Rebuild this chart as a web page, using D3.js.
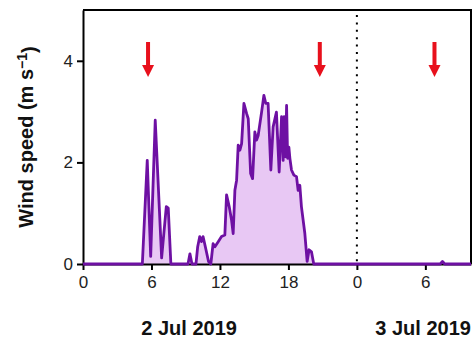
<!DOCTYPE html>
<html>
<head>
<meta charset="utf-8">
<script src="https://cdn.jsdelivr.net/npm/d3@7"></script>
<style>
  body { margin: 0; background: #fff; }
  svg text { font-family: "Liberation Sans", Arial, sans-serif; }
</style>
</head>
<body>
<svg id="wind-chart" width="473" height="345"></svg>
<script>
// hours since 00:00 on 2 Jul 2019, wind speed in m/s
var hours = [0, 5.2, 5.63, 5.93, 6.33, 6.89, 7.3, 7.47, 7.7, 9.2, 9.37, 9.55, 9.9,
  10.05, 10.23, 10.38, 10.52, 10.72, 11.0, 11.2, 11.4, 11.56, 11.85, 12.14, 12.43,
  12.58, 12.81, 13.02, 13.16, 13.31, 13.46, 13.6, 13.75, 13.9, 14.1, 14.34, 14.48,
  14.69, 14.86, 15.06, 15.21, 15.35, 15.65, 15.85, 16.02, 16.22, 16.46, 16.66, 16.95,
  17.19, 17.4, 17.54, 17.63, 17.75, 17.84, 17.93, 18.04, 18.13, 18.27, 18.48, 18.71,
  18.85, 19.0, 19.14, 19.44, 19.64, 19.81, 20.02, 20.22, 31.3, 31.5, 31.7, 34];
var speeds = [0, 0, 2.04, 0.15, 2.83, 0.12, 1.13, 1.1, 0, 0, 0.2, 0, 0,
  0.34, 0.54, 0.44, 0.54, 0.34, 0.05, 0, 0.4, 0.34, 0.44, 0.54, 0.57,
  1.36, 1.13, 0.86, 0.6, 1.45, 1.65, 2.34, 2.24, 2.37, 3.16, 2.96, 2.86,
  1.78, 1.68, 2.6, 2.44, 2.53, 2.99, 3.32, 3.16, 3.16, 1.85, 2.7, 2.99,
  1.81, 2.9, 2.04, 2.9, 2.11, 3.12, 2.08, 2.3, 2.08, 1.85, 1.75, 1.72,
  1.45, 1.55, 1.13, 0.6, 0.05, 0.28, 0.24, 0, 0, 0.05, 0, 0];

var xTicks = [0, 6, 12, 18, 24, 30];
var xTickLabels = ["0", "6", "12", "18", "0", "6"];
var yTicks = [0, 2, 4];
var arrowHours = [5.7, 20.75, 30.8];
var midnight = 24;
var dayLabels = ["2 Jul 2019", "3 Jul 2019"];
var dayLabelHours = [9.3, 29.8];

var margin = {top: 10, right: 2, bottom: 81, left: 83},
    width = 473 - margin.left - margin.right,
    height = 345 - margin.top - margin.bottom;

var svg = d3.select("#wind-chart")
  .append("g")
  .attr("transform", "translate(" + margin.left + "," + margin.top + ")");

var x = d3.scaleLinear().domain([0, 34]).range([0, width]);
var y = d3.scaleLinear().domain([0, 5]).range([height, 0]);

var data = hours.map(function (h, i) { return {h: h, v: speeds[i]}; });

// area under the curve
svg.append("path")
  .datum(data)
  .attr("fill", "#e8c8f4")
  .attr("d", d3.area().x(function (d) { return x(d.h); }).y0(y(0)).y1(function (d) { return y(d.v); }));

// frame top & right
svg.append("path")
  .attr("d", "M0,0H" + width + "V" + height)
  .attr("fill", "none")
  .attr("stroke", "#000")
  .attr("stroke-width", 2);

// dotted midnight line
svg.append("line")
  .attr("x1", x(midnight)).attr("x2", x(midnight))
  .attr("y1", 5).attr("y2", height - 2)
  .attr("stroke", "#000")
  .attr("stroke-width", 2)
  .attr("stroke-dasharray", "2,5.4");

//Draw axes
var xAxis = d3.axisBottom(x)
  .tickValues(xTicks)
  .tickFormat(function (d, i) { return xTickLabels[i]; })
  .tickSizeInner(6).tickSizeOuter(0).tickPadding(6);
var gx = svg.append("g")
  .attr("transform", "translate(0," + height + ")")
  .call(xAxis);

var yAxis = d3.axisLeft(y)
  .tickValues(yTicks)
  .tickFormat(d3.format("d"))
  .tickSizeInner(6).tickSizeOuter(0).tickPadding(4);
var gy = svg.append("g").call(yAxis);

[gx, gy].forEach(function (g) {
  g.select(".domain").attr("stroke", "#000").attr("stroke-width", 2);
  g.selectAll(".tick line").attr("stroke", "#000").attr("stroke-width", 2);
  g.selectAll("text").attr("fill", "#222").style("font-size", "17px").style("font-family", "Liberation Sans, Arial, sans-serif");
});

svg.append("path")
  .datum(data)
  .attr("fill", "none")
  .attr("stroke", "#6e10a3")
  .attr("stroke-width", 2.8)
  .attr("stroke-linejoin", "round")
  .attr("d", d3.line().x(function (d) { return x(d.h); }).y(function (d) { return y(d.v); }));

// red arrows
var arrows = svg.selectAll(".arrow")
  .data(arrowHours)
  .enter().append("g")
  .attr("transform", function (d) { return "translate(" + x(d) + ",0)"; });
arrows.append("rect")
  .attr("x", -2).attr("y", 32).attr("width", 4).attr("height", 24)
  .attr("fill", "#e8101c");
arrows.append("path")
  .attr("d", "M-6,55L6,55L0,67Z")
  .attr("fill", "#e8101c");

// day labels
svg.selectAll(".day")
  .data(dayLabels)
  .enter().append("text")
  .attr("x", function (d, i) { return x(dayLabelHours[i]); })
  .attr("y", 328 - margin.top + 7)
  .attr("text-anchor", "middle")
  .style("font-size", "20px")
  .style("font-weight", "bold")
  .attr("fill", "#111")
  .text(function (d) { return d; });

// y label
var yl = d3.select("#wind-chart").append("text")
  .attr("transform", "translate(33,137)rotate(-90)")
  .attr("text-anchor", "middle")
  .style("font-size", "20px")
  .style("font-weight", "bold")
  .attr("fill", "#111");
yl.append("tspan").text("Wind speed (m s");
yl.append("tspan").attr("dy", "-0.45em").style("font-size", "14px").text("\u22121");
yl.append("tspan").attr("dy", "0.45em").text(")");
</script>
</body>
</html>
